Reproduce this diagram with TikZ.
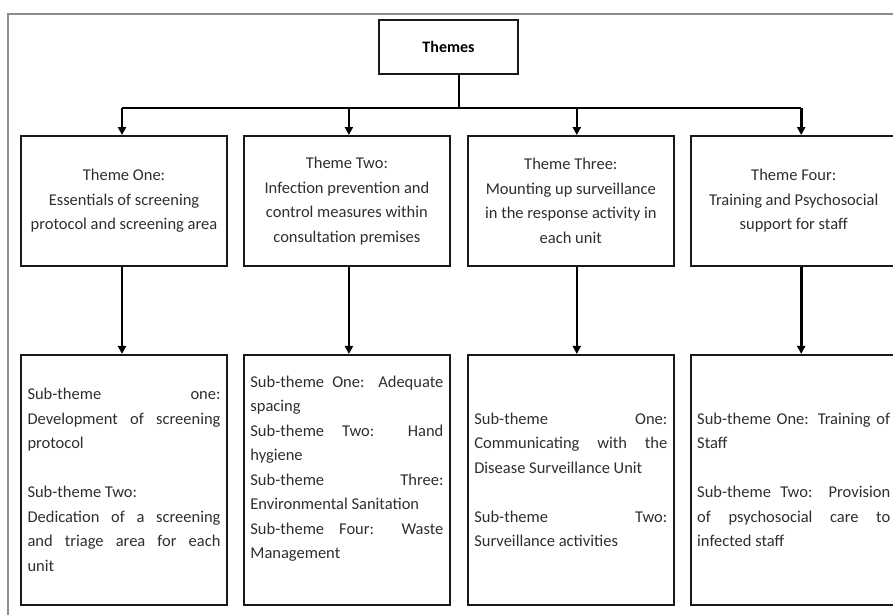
\documentclass[tikz,border=0pt]{standalone}
\usepackage{fontspec}
\setmainfont{Carlito}
\usepackage{xcolor}
\usetikzlibrary{arrows.meta, positioning}
\definecolor{framegray}{HTML}{8C8C8C}
\definecolor{inkgray}{HTML}{2E2E2E}
\setlength{\parindent}{0pt}
\hyphenpenalty=10000
\exhyphenpenalty=10000
\tolerance=10000

\begin{document}
\begin{tikzpicture}[x=1pt, y=-1pt,
          box/.style={draw=black!90, line width=1.9pt, align=center,
                      text=inkgray, inner sep=0pt,
                      font=\fontsize{16.5}{24.5}\selectfont},
          themebox/.style={box, minimum width=206pt, minimum height=130pt},
          subbox/.style={box, minimum width=206pt, minimum height=250pt,
                         text width=193pt, align=justify},
          arr/.style={-{Triangle[length=8pt, width=8pt]}, line width=2.6pt},
          bar/.style={line width=2.6pt},
          stem/.style={line width=1.4pt},
        ]
        \useasboundingbox (0,0) rectangle (893,615);
        \draw[framegray, line width=2.2pt] (8,615) -- (8,14) -- (893,14);

        \node[box, minimum width=139pt, minimum height=54pt, text=black,
              font=\fontsize{16}{19}\selectfont\bfseries]
              (themes) at (448.5,47) {Themes};

        % main themes
        \node[themebox] (th1) at (124,201)
              {Theme One:\\Essentials of screening\\protocol and screening area};
        \node[themebox, right=15pt of th1] (th2)
              {Theme Two:\\Infection prevention and\\control measures within\\consultation premises};
        \node[themebox, right=16pt of th2] (th3)
              {Theme Three:\\Mounting up surveillance\\in the response activity in\\each unit};
        \node[themebox, right=15pt of th3] (th4)
              {Theme Four:\\Training and Psychosocial\\support for staff};

        % sub-themes
        \node[subbox, below=87pt of th1] (sub1)
              {Sub-theme one:\linebreak Development of screening\linebreak protocol\par
               \vspace{24.5pt}Sub-theme Two:\par
               Dedication of a screening\linebreak and triage area for each\linebreak unit};
        \node[subbox, below=87pt of th2] (sub2)
              {Sub-theme One: Adequate\linebreak spacing\par
               Sub-theme Two: Hand\linebreak hygiene\par
               Sub-theme Three:\linebreak Environmental Sanitation\par
               Sub-theme Four: Waste\linebreak Management\par\vspace{22pt}};
        \node[subbox, below=87pt of th3] (sub3)
              {Sub-theme One:\linebreak Communicating with the\linebreak Disease Surveillance Unit\par
               \vspace{24.5pt}Sub-theme Two:\linebreak Surveillance activities};
        \node[subbox, below=87pt of th4] (sub4)
              {Sub-theme One: Training of\linebreak Staff\par
               \vspace{24.5pt}Sub-theme Two: Provision\linebreak of psychosocial care to\linebreak infected staff};

        \coordinate (join) at (459,108);
        \draw[stem] ([xshift=10.5pt]themes.south) -- (join);
        \foreach \i/\dx in {1/-2, 2/2, 3/6, 4/7.5} {
          \coordinate (top\i) at ([xshift=\dx pt]th\i.north);
          \coordinate (bot\i) at ([xshift=\dx pt]th\i.south);
          \draw[arr] (top\i |- join) -- (top\i);
          \draw[arr] (bot\i) -- (bot\i |- sub\i.north);
        }
        \draw[bar] (top1 |- join) -- (top4 |- join);
      \end{tikzpicture}
\end{document}
